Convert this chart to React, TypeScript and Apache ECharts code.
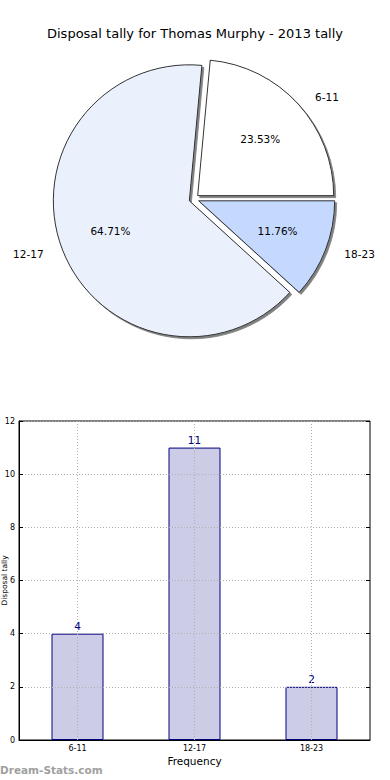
import React, { useEffect, useRef } from 'react';
import * as echarts from 'echarts';

const chartTitle = 'Disposal tally for Thomas Murphy - 2013 tally';
const categories = ['6-11', '12-17', '18-23'];
const counts = [4, 11, 2];
const sliceColors = ['#ffffff', '#eaf1fd', '#c5d9ff'];
const xAxisName = 'Frequency';
const yAxisName = 'Disposal tally';
const watermark = 'Dream-Stats.com';
const yMin = 0;
const yMax = 12;
const yStep = 2;

const FONT = 'DejaVu Sans';

export default function App() {
  const ref = useRef<HTMLDivElement>(null);
  useEffect(() => {
    if (!ref.current) return;
    const chart = echarts.init(ref.current, null, { renderer: 'svg' });
    const R = 136;
    const center = [194, 199];
    const pieData = categories.map((c, i) => ({
      name: c,
      value: counts[i],
      selected: true,
      itemStyle: { color: sliceColors[i] },
    }));
    const transparentData = categories.map((c, i) => ({
      name: c,
      value: counts[i],
      selected: true,
      itemStyle: { color: 'rgba(0,0,0,0)', borderWidth: 0 },
    }));
    const common = {
      type: 'pie',
      center,
      startAngle: 0,
      clockwise: false,
      selectedMode: 'multiple',
      selectedOffset: 5,
      avoidLabelOverlap: false,
      animation: false,
      silent: true,
      emphasis: { disabled: true },
      select: { disabled: false, itemStyle: {} },
    };
    chart.setOption({
      animation: false,
      textStyle: { fontFamily: FONT },
      title: {
        text: chartTitle,
        left: 'center',
        top: 22,
        textStyle: { fontFamily: FONT, fontSize: 13, fontWeight: 'normal', color: '#000' },
      },
      graphic: [
        {
          type: 'text',
          left: 0,
          top: 764,
          style: { text: watermark, fill: '#a0a0a0', font: `bold 10.5px "${FONT}"` },
        },
      ],
      grid: {
        left: 19,
        right: 20,
        top: 421,
        bottom: 40,
        outerBoundsMode: 'none',
        containLabel: false,
        show: true,
        borderColor: '#000',
        borderWidth: 1,
        backgroundColor: 'transparent',
      },
      xAxis: [
        {
          type: 'category',
          data: categories,
          z: 3,
          name: xAxisName,
          nameLocation: 'middle',
          nameGap: 15,
          nameTextStyle: { fontFamily: FONT, fontSize: 10.5, color: '#000' },
          axisLine: { lineStyle: { color: '#000' } },
          axisTick: { inside: true, alignWithLabel: true, length: 4, lineStyle: { color: '#000' } },
          axisLabel: { fontFamily: FONT, fontSize: 8, color: '#000', margin: 4 },
          splitLine: { show: true, alignWithLabel: true, lineStyle: { color: '#b0b0b0', type: [1, 2] } },
        },
        {
          type: 'category',
          data: categories,
          position: 'top',
          z: 3,
          axisLine: { show: false },
          axisTick: { inside: true, alignWithLabel: true, length: 4, lineStyle: { color: '#000' } },
          axisLabel: { show: false },
          splitLine: { show: false },
        },
      ],
      yAxis: [
        {
          type: 'value',
          min: yMin,
          max: yMax,
          interval: yStep,
          z: 3,
          name: yAxisName,
          nameLocation: 'middle',
          nameGap: 11,
          nameMoveOverlap: false,
          nameTextStyle: { fontFamily: FONT, fontSize: 7.5, color: '#000' },
          axisLine: { show: true, lineStyle: { color: '#000' } },
          axisTick: { show: true, inside: true, length: 4, lineStyle: { color: '#000' } },
          axisLabel: { fontFamily: FONT, fontSize: 8, color: '#000', margin: 4 },
          splitLine: { show: true, lineStyle: { color: '#b0b0b0', type: [1, 2] } },
        },
        {
          type: 'value',
          min: yMin,
          max: yMax,
          interval: yStep,
          position: 'right',
          z: 3,
          axisLine: { show: false },
          axisTick: { show: true, inside: true, length: 4, lineStyle: { color: '#000' } },
          axisLabel: { show: false },
          splitLine: { show: false },
        },
      ],
      series: [
        {
          ...common,
          name: 'slices',
          radius: [0, R],
          z: 2,
          itemStyle: {
            borderColor: '#000',
            borderWidth: 0.8,
            shadowColor: '#808080',
            shadowBlur: 0,
            shadowOffsetX: 2,
            shadowOffsetY: 2,
          },
          label: { show: false },
          labelLine: { show: false },
          data: pieData,
        },
        {
          ...common,
          name: 'percent',
          radius: [R * 0.5, R * 0.7],
          z: 3,
          label: {
            show: true,
            position: 'inside',
            formatter: '{d}%',
            fontFamily: FONT,
            fontSize: 10.5,
            color: '#000',
          },
          labelLine: { show: false },
          data: transparentData,
        },
        {
          ...common,
          name: 'names',
          radius: [0, R * 1.1 - 3],
          z: 3,
          label: {
            show: true,
            position: 'outside',
            formatter: '{b}',
            fontFamily: FONT,
            fontSize: 10.5,
            color: '#000',
            padding: [0, 4, 0, 4],
          },
          labelLine: { show: false, length: 0, length2: 0 },
          data: transparentData,
        },
        {
          type: 'bar',
          xAxisIndex: 0,
          yAxisIndex: 0,
          data: counts,
          barWidth: 52,
          z: 2,
          itemStyle: { color: '#ccccE6', borderColor: '#000080', borderWidth: 1 },
          label: { show: true, position: 'top', distance: 2, color: '#000080', fontFamily: FONT, fontSize: 10.5 },
          silent: true,
        },
      ],
    });
    return () => chart.dispose();
  }, []);
  return <div ref={ref} style={{ position: 'fixed', left: 0, top: 0, width: 390, height: 780, background: '#fff' }} />;
}
